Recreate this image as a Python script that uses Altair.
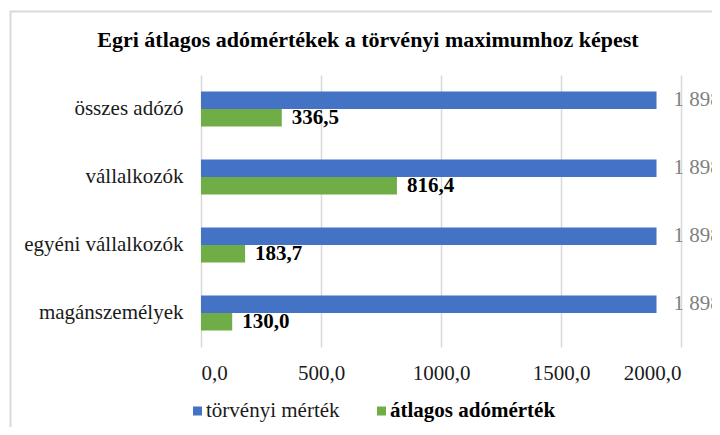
import altair as alt
import pandas as pd

categories = ["összes adózó", "vállalkozók", "egyéni vállalkozók", "magánszemélyek"]
series_names = ["törvényi mérték", "átlagos adómérték"]
legal_max = [1898.0, 1898.0, 1898.0, 1898.0]
average_rate = [336.5, 816.4, 183.7, 130.0]
x_ticks = [0, 500, 1000, 1500, 2000]
title_text = "Egri átlagos adómértékek a törvényi maximumhoz képest"

BLUE = "#4472C4"
GREEN = "#70AD47"
FONT = "Liberation Serif"

rows = []
for c, v in zip(categories, legal_max):
    rows.append({"cat": c, "series": series_names[0], "value": v})
for c, v in zip(categories, average_rate):
    rows.append({"cat": c, "series": series_names[1], "value": v})
df = pd.DataFrame(rows)

label_expr = "replace(replace(format(datum.value, ',.1f'), ',', ' '), '.', ',')"

y_enc = alt.Y(
    "cat:N",
    sort=categories,
    scale=alt.Scale(paddingInner=0.485, paddingOuter=0.2425),
    axis=alt.Axis(
        title=None, domain=False, ticks=False, grid=False,
        labelFont=FONT, labelFontSize=21, labelColor="#1a1a1a", labelPadding=18,
    ),
)
yoff_enc = alt.YOffset("series:N", sort=series_names, scale=alt.Scale(paddingInner=0, paddingOuter=0))
x_enc = alt.X(
    "value:Q",
    scale=alt.Scale(domain=[0, 2000], nice=False),
    axis=alt.Axis(
        title=None, domain=False, ticks=False, grid=True, gridColor="#d9d9d9", gridWidth=1.5,
        values=x_ticks, labelFont=FONT, labelFontSize=21, labelColor="#1a1a1a",
        labelPadding=15,
        labelExpr="replace(format(datum.value, '.1f'), '.', ',')",
    ),
)

base = alt.Chart(df)

bars = base.mark_bar().encode(
    x=x_enc,
    y=y_enc,
    yOffset=yoff_enc,
    color=alt.Color("series:N", scale=alt.Scale(domain=series_names, range=[BLUE, GREEN]), legend=None),
)

blue_labels = base.transform_filter(
    alt.datum.series == series_names[0]
).transform_calculate(lbl=label_expr).mark_text(
    align="left", baseline="middle", dx=17, font=FONT, fontSize=21, color="#808080"
).encode(x="value:Q", y=alt.Y("cat:N", sort=categories), yOffset=yoff_enc, text="lbl:N")

green_labels = base.transform_filter(
    alt.datum.series == series_names[1]
).transform_calculate(lbl=label_expr).mark_text(
    align="left", baseline="middle", dx=10, font=FONT, fontSize=21, fontWeight="bold", color="#000000"
).encode(x="value:Q", y=alt.Y("cat:N", sort=categories), yOffset=yoff_enc, text="lbl:N")

one = pd.DataFrame({"a": [0]})

border = alt.Chart(one).mark_rect(filled=False, stroke="#d9d9d9", strokeWidth=2).encode(
    x=alt.value(-190.5), x2=alt.value(540), y=alt.value(-63.5), y2=alt.value(400)
)

title = alt.Chart(one).mark_text(
    align="center", baseline="alphabetic", font=FONT, fontSize=22, fontWeight="bold", color="#000000"
).encode(x=alt.value(167), y=alt.value(-28.5), text=alt.value(title_text))

leg_sq_blue = alt.Chart(one).mark_square(size=81, color=BLUE, opacity=1).encode(
    x=alt.value(-3.5), y=alt.value(336)
)
leg_sq_green = alt.Chart(one).mark_square(size=81, color=GREEN, opacity=1).encode(
    x=alt.value(180.5), y=alt.value(336)
)
leg_txt_blue = alt.Chart(one).mark_text(
    align="left", baseline="middle", font=FONT, fontSize=21, color="#1a1a1a"
).encode(x=alt.value(5), y=alt.value(336), text=alt.value(series_names[0]))
leg_txt_green = alt.Chart(one).mark_text(
    align="left", baseline="middle", font=FONT, fontSize=21, fontWeight="bold", color="#000000"
).encode(x=alt.value(189), y=alt.value(336), text=alt.value(series_names[1]))

chart = alt.layer(
    border, bars, blue_labels, green_labels, title,
    leg_sq_blue, leg_sq_green, leg_txt_blue, leg_txt_green,
).properties(
    width=480,
    height=272,
    autosize=alt.AutoSizeParams(type="none"),
    padding={"left": 193, "top": 67, "right": 31, "bottom": 80},
    background="white",
).configure_view(stroke=None)

chart.save("out.html", embed_options={"renderer": "svg", "actions": False})
